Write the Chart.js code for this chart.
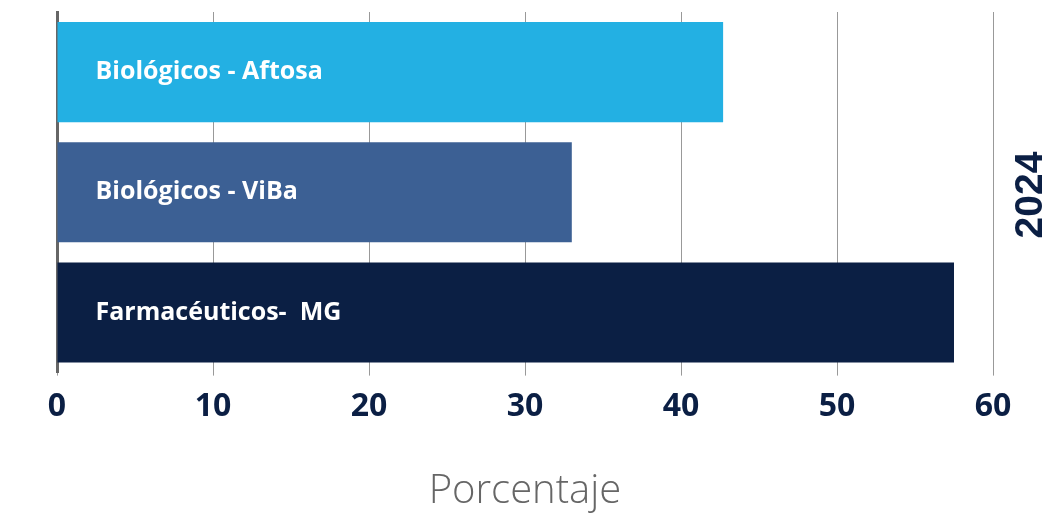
<!DOCTYPE html>
<html lang="es">
<head>
  <meta charset="utf-8">
  <title>Porcentaje 2024</title>
  <script src="https://cdn.jsdelivr.net/npm/chart.js@4.4.1/dist/chart.umd.min.js"></script>
  <style>
    html, body { margin: 0; padding: 0; background: #fff; }
  </style>
</head>
<body>
  <canvas id="chart-bar" width="1044" height="516"></canvas>
  <script>
    // datos
    var categorias = ["Biológicos - Aftosa", "Biológicos - ViBa", "Farmacéuticos-  MG"];
    var valores = [42.7, 33.0, 57.5];
    var colores = ['#23b0e3', '#3c6094', '#0b1f44'];
    var anio = "2024";
    var ejeX = "Porcentaje";
    var ticksX = [0, 10, 20, 30, 40, 50, 60];

    // etiquetas dentro de las barras + año a la derecha
    var etiquetas = {
      id: 'etiquetas',
      afterDatasetsDraw: function (chart) {
        var ctx = chart.ctx;
        var meta = chart.getDatasetMeta(0);
        ctx.save();
        ctx.fillStyle = '#ffffff';
        ctx.font = 'bold 25px "Open Sans"';
        ctx.textBaseline = 'middle';
        ctx.textAlign = 'left';
        meta.data.forEach(function (bar, i) {
          ctx.fillText(categorias[i], bar.base + 38, bar.y);
        });
        // 2024
        ctx.translate(1029, 195);
        ctx.rotate(-Math.PI / 2);
        ctx.textAlign = 'center';
        ctx.textBaseline = 'middle';
        ctx.fillStyle = '#0b1f44';
        ctx.font = 'bold 39px "Liberation Sans"';
        ctx.fillText(anio, 0, 2);
        ctx.restore();
      }
    };

    new Chart(document.getElementById('chart-bar'), {
      type: 'bar',
      data: {
        labels: categorias,
        datasets: [{
          data: valores,
          backgroundColor: colores,
          barPercentage: 0.833,
          categoryPercentage: 1
        }]
      },
      options: {
        indexAxis: 'y',
        responsive: false,
        animation: false,
        layout: { padding: { left: 57, right: 51, top: 12, bottom: 0 } },
        plugins: {
          legend: { display: false },
          tooltip: { enabled: false }
        },
        scales: {
          x: {
            min: 0,
            max: 60,
            afterBuildTicks: function (scale) {
              scale.ticks = ticksX.map(function (v) { return { value: v }; });
            },
            border: { display: false },
            grid: { color: '#999999', lineWidth: 1, tickLength: 3, drawOnChartArea: true },
            ticks: {
              color: '#0b1f44',
              padding: 12,
              font: { family: 'Open Sans', size: 32, weight: 'bold' }
            },
            title: {
              display: true,
              text: ejeX,
              color: '#666666',
              padding: { top: 30, bottom: 0 },
              font: { family: 'Open Sans', size: 40, weight: '300' }
            }
          },
          y: {
            afterFit: function (scale) { scale.width = 0; },
            border: { display: true, color: '#666666', width: 3 },
            grid: { display: false },
            ticks: { display: false }
          }
        }
      },
      plugins: [etiquetas]
    });
  </script>
</body>
</html>
